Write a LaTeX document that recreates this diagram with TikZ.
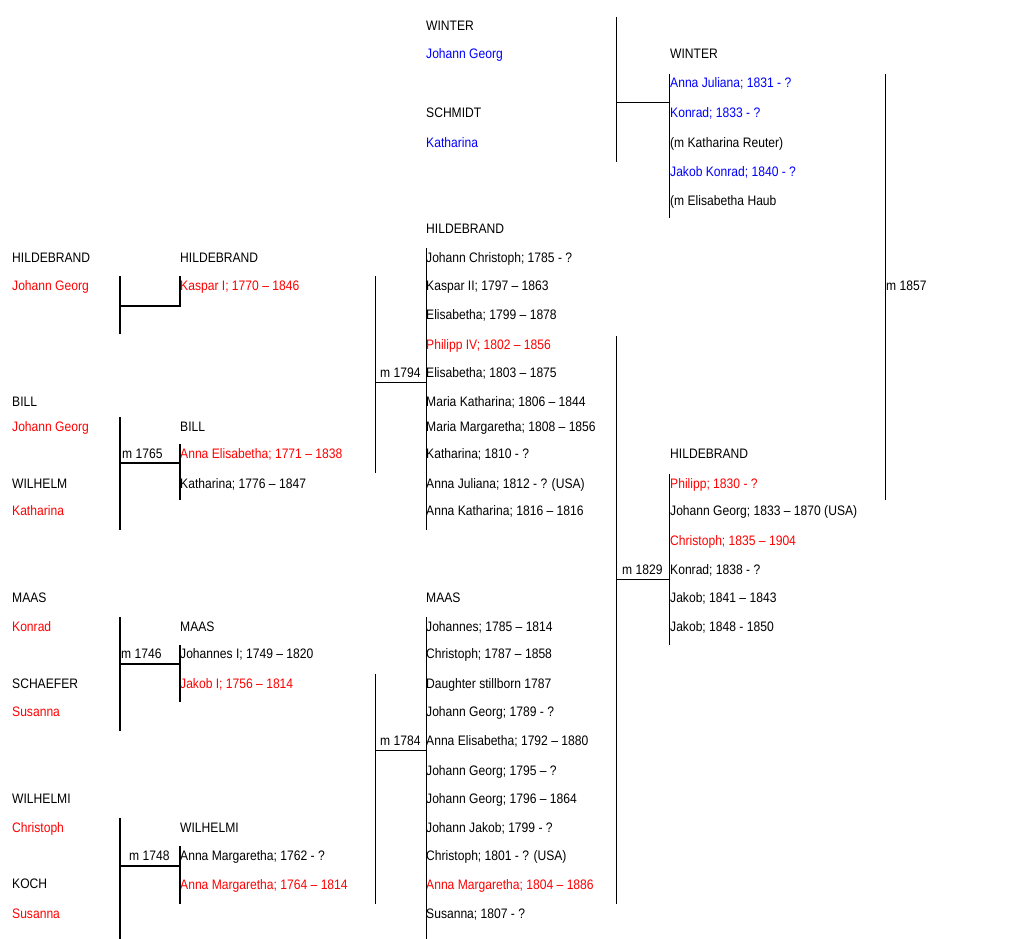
\documentclass[tikz,border=0pt]{standalone}
\usepackage{fontspec}
\setmainfont[FakeStretch=0.88]{Liberation Sans}
\definecolor{line}{RGB}{255,0,0}
\definecolor{inlaw}{RGB}{0,0,255}
\begin{document}
\begin{tikzpicture}[x=1pt, y=-1pt,
	every node/.style={anchor=base west, inner sep=0pt, font=\fontsize{13.75}{16}\selectfont},
	r/.style={text=line}, b/.style={text=inlaw},
	link/.style={line width=1pt}, heavylink/.style={line width=2pt}]
			\useasboundingbox (0,0) rectangle (1023,939);

			% WINTER / SCHMIDT
			\node (winter) at (426,31) {WINTER};
			\node[b] (jgwinter) at (426,59) {Johann Georg};
			\node (schmidt) at (426,118) {SCHMIDT};
			\node[b] (kschmidt) at (426,148) {Katharina};
			\node (winter2) at (670,59) {WINTER};
			\node[b] (ajw) at (670,88) {Anna Juliana; 1831 - ?};
			\node[b] (kw) at (670,118) {Konrad; 1833 - ?};
			\node (mkr) at (670,148) {(m Katharina Reuter)};
			\node[b] (jkw) at (670,176) {Jakob Konrad; 1840 - ?};
			\node (meh) at (670,205) {(m Elisabetha Haub};
			\node (m1857) at (886,290) {m 1857};

			% HILDEBRAND children
			\node (hild3) at (426,233) {HILDEBRAND};
			\node (h1) at (426,262) {Johann Christoph; 1785 - ?};
			\node (h2) at (426,290) {Kaspar II; 1797 – 1863};
			\node (h3) at (426,319) {Elisabetha; 1799 – 1878};
			\node[r] (h4) at (426,349) {Philipp IV; 1802 – 1856};
			\node (h5) at (426,377) {Elisabetha; 1803 – 1875};
			\node (h6) at (426,406) {Maria Katharina; 1806 – 1844};
			\node (h7) at (426,431) {Maria Margaretha; 1808 – 1856};
			\node (h8) at (426,458) {Katharina; 1810 - ?};
			\node (h9) at (426,488) {Anna Juliana; 1812 - ? (USA)};
			\node (h10) at (426,515) {Anna Katharina; 1816 – 1816};
			\node (m1794) at (380,377) {m 1794};

			% HILDEBRAND / BILL
			\node (hild1) at (12,262) {HILDEBRAND};
			\node[r] (jghild) at (12,290) {Johann Georg};
			\node (hild2) at (180,262) {HILDEBRAND};
			\node[r] (kaspar) at (180,290) {Kaspar I; 1770 – 1846};
			\node (bill1) at (12,406) {BILL};
			\node[r] (jgbill) at (12,431) {Johann Georg};
			\node (bill2) at (180,431) {BILL};
			\node[r] (aebill) at (180,458) {Anna Elisabetha; 1771 – 1838};
			\node (m1765) at (122,458) {m 1765};
			\node (wilhelm) at (12,488) {WILHELM};
			\node[r] (kwilhelm) at (12,515) {Katharina};
			\node (kbill) at (180,488) {Katharina; 1776 – 1847};

			% HILDEBRAND grandchildren
			\node (hild4) at (670,458) {HILDEBRAND};
			\node[r] (g1) at (670,488) {Philipp; 1830 - ?};
			\node (g2) at (670,515) {Johann Georg; 1833 – 1870 (USA)};
			\node[r] (g3) at (670,545) {Christoph; 1835 – 1904};
			\node (g4) at (670,574) {Konrad; 1838 - ?};
			\node (g5) at (670,602) {Jakob; 1841 – 1843};
			\node (g6) at (670,631) {Jakob; 1848 - 1850};
			\node (m1829) at (622,574) {m 1829};

			% MAAS / SCHAEFER / WILHELMI / KOCH
			\node (maas1) at (12,602) {MAAS};
			\node[r] (kmaas) at (12,631) {Konrad};
			\node (maas2) at (180,631) {MAAS};
			\node (jmaas) at (180,658) {Johannes I; 1749 – 1820};
			\node (m1746) at (121,658) {m 1746};
			\node (schaefer) at (12,688) {SCHAEFER};
			\node[r] (jakob) at (180,688) {Jakob I; 1756 – 1814};
			\node[r] (sschaefer) at (12,716) {Susanna};
			\node (wilhelmi1) at (12,803) {WILHELMI};
			\node[r] (cwilhelmi) at (12,832) {Christoph};
			\node (wilhelmi2) at (180,832) {WILHELMI};
			\node (m1748) at (129,860) {m 1748};
			\node (amw1) at (180,860) {Anna Margaretha; 1762 - ?};
			\node (koch) at (12,888) {KOCH};
			\node[r] (amw2) at (180,889) {Anna Margaretha; 1764 – 1814};
			\node[r] (skoch) at (12,918) {Susanna};

			% MAAS children
			\node (maas3) at (426,602) {MAAS};
			\node (j1) at (426,631) {Johannes; 1785 – 1814};
			\node (j2) at (426,658) {Christoph; 1787 – 1858};
			\node (j3) at (426,688) {Daughter stillborn 1787};
			\node (j4) at (426,716) {Johann Georg; 1789 - ?};
			\node (j5) at (426,745) {Anna Elisabetha; 1792 – 1880};
			\node (j6) at (426,775) {Johann Georg; 1795 – ?};
			\node (j7) at (426,803) {Johann Georg; 1796 – 1864};
			\node (j8) at (426,832) {Johann Jakob; 1799 - ?};
			\node (j9) at (426,860) {Christoph; 1801 - ? (USA)};
			\node[r] (j10) at (426,889) {Anna Margaretha; 1804 – 1886};
			\node (j11) at (426,918) {Susanna; 1807 - ?};
			\node (m1784) at (380,745) {m 1784};

			% brackets
			\coordinate (wt) at (616,17);
			\coordinate (wb) at (616,162);
			\coordinate (wm) at (616,103);
			\coordinate (wc) at (669,103);
			\coordinate (wct) at (669,74);
			\coordinate (wcb) at (669,218);
			\coordinate (mt) at (885,74);
			\coordinate (mb) at (885,500);
			\draw[link] (wt) -- (wb);
			\draw[link] (wm) -- (wc);
			\draw[link] (wct) -- (wcb);
			\draw[link] (mt) -- (mb);

			\coordinate (ht) at (375,276);
			\coordinate (hb) at (375,473);
			\coordinate (hm) at (375,382);
			\coordinate (hc) at (426,382);
			\coordinate (hct) at (426,248);
			\coordinate (hcb) at (426,530);
			\draw[link] (ht) -- (hb);
			\draw[link] (hm) -- (hc);
			\draw[link] (hct) -- (hcb);

			\coordinate (at) at (120,276);
			\coordinate (ab) at (120,334);
			\coordinate (am) at (120,306);
			\coordinate (ac) at (180,306);
			\coordinate (act) at (180,276);
			\draw[heavylink] (at) -- (ab);
			\draw[heavylink] (am) -- (ac) -- (act);

			\coordinate (bt) at (120,417);
			\coordinate (bb) at (120,530);
			\coordinate (bm) at (120,463);
			\coordinate (bc) at (180,463);
			\coordinate (bct) at (180,444);
			\coordinate (bcb) at (180,500);
			\draw[heavylink] (bt) -- (bb);
			\draw[heavylink] (bm) -- (bc);
			\draw[heavylink] (bct) -- (bcb);

			\coordinate (gt) at (616,336);
			\coordinate (gb) at (616,904);
			\coordinate (gm) at (616,579);
			\coordinate (gc) at (669,579);
			\coordinate (gct) at (669,474);
			\coordinate (gcb) at (669,645);
			\draw[link] (gt) -- (gb);
			\draw[link] (gm) -- (gc);
			\draw[link] (gct) -- (gcb);

			\coordinate (ct) at (120,617);
			\coordinate (cb) at (120,731);
			\coordinate (cm) at (120,664);
			\coordinate (cc) at (180,664);
			\coordinate (cct) at (180,645);
			\coordinate (ccb) at (180,702);
			\draw[heavylink] (ct) -- (cb);
			\draw[heavylink] (cm) -- (cc);
			\draw[heavylink] (cct) -- (ccb);

			\coordinate (dt) at (120,818);
			\coordinate (db) at (120,939);
			\coordinate (dm) at (120,866);
			\coordinate (dc) at (180,866);
			\coordinate (dct) at (180,846);
			\coordinate (dcb) at (180,904);
			\draw[heavylink] (dt) -- (db);
			\draw[heavylink] (dm) -- (dc);
			\draw[heavylink] (dct) -- (dcb);

			\coordinate (et) at (375,674);
			\coordinate (eb) at (375,904);
			\coordinate (em) at (375,750);
			\coordinate (ec) at (426,750);
			\coordinate (ect) at (426,617);
			\coordinate (ecb) at (426,939);
			\draw[link] (et) -- (eb);
			\draw[link] (em) -- (ec);
			\draw[link] (ect) -- (ecb);
		\end{tikzpicture}
\end{document}
